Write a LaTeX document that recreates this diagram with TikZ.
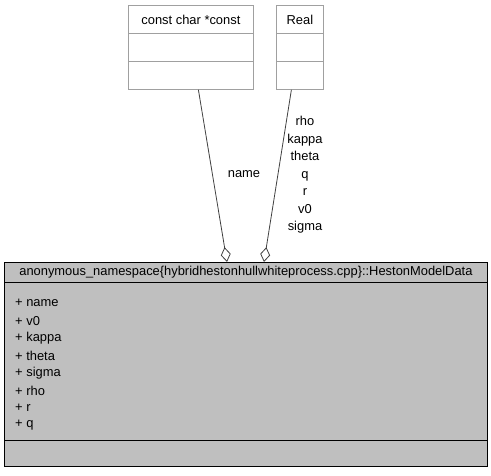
\documentclass[tikz,border=0pt]{standalone}
\usepackage{fontspec}
\setmainfont{Liberation Sans}
\usetikzlibrary{arrows.meta,calc}
\definecolor{boxgrey}{HTML}{BFBFBF}
\definecolor{topborder}{HTML}{A0A0A0}
\definecolor{edgecol}{HTML}{404040}
\tikzset{
  txt/.style={font=\fontsize{12.9}{17.5}\selectfont, inner sep=0pt},
  topcell/.style={draw=topborder, fill=white, line width=0.8pt, minimum height=28pt, inner sep=0pt, anchor=north west, font=\fontsize{12.9}{17.5}\selectfont},
  maincell/.style={draw=black, fill=boxgrey, line width=0.9pt, inner sep=0pt, anchor=north west, minimum width=483pt},
  agg/.style={draw=edgecol, line width=0.8pt, -{Diamond[open, length=15pt, width=10pt]}},
}
\begin{document}
\begin{tikzpicture}[x=1pt,y=-1pt]
\useasboundingbox (0,0) rectangle (491,475);
% top boxes
\node[topcell, minimum width=125pt] (cc) at (128,5) {const char *const};
\node[topcell, minimum width=125pt] (cc2) at (128,33) {};
\node[topcell, minimum width=125pt] (cc3) at (128,61) {};
\node[topcell, minimum width=47pt] (re) at (276,5) {Real};
\node[topcell, minimum width=47pt] (re2) at (276,33) {};
\node[topcell, minimum width=47pt] (re3) at (276,61) {};
% main box
\node[maincell, minimum height=20pt, font=\fontsize{12.9}{17.5}\selectfont] (main) at (4,262) {anonymous\_namespace\{hybridhestonhullwhiteprocess.cpp\}::HestonModelData};
\node[maincell, minimum height=158pt] (attr) at (4,282) {};
\node[maincell, minimum height=26pt] (ops) at (4,440) {};
% attributes
\node[txt, anchor=west] (a1) at (15,303) {+ name};
\node[txt, anchor=west] (a2) at (15,321) {+ v0};
\node[txt, anchor=west] (a3) at (15,338) {+ kappa};
\node[txt, anchor=west] (a4) at (15,355.5) {+ theta};
\node[txt, anchor=west] (a5) at (15,373) {+ sigma};
\node[txt, anchor=west] (a6) at (15,390.5) {+ rho};
\node[txt, anchor=west] (a7) at (15,408) {+ r};
\node[txt, anchor=west] (a8) at (15,425.5) {+ q};
% connectors
\draw[agg] ($(cc3.south)+(7.5,0)$) -- ($(main.north west)+(223,0)$);
\draw[agg] ($(re3.south)+(-8.5,0)$) -- ($(main.north west)+(260,0)$);
% labels
\node[txt] (l1) at (244,174) {name};
\node[txt, align=center] (l2) at (305,175) {rho\\kappa\\theta\\q\\r\\v0\\sigma};
\end{tikzpicture}
\end{document}
